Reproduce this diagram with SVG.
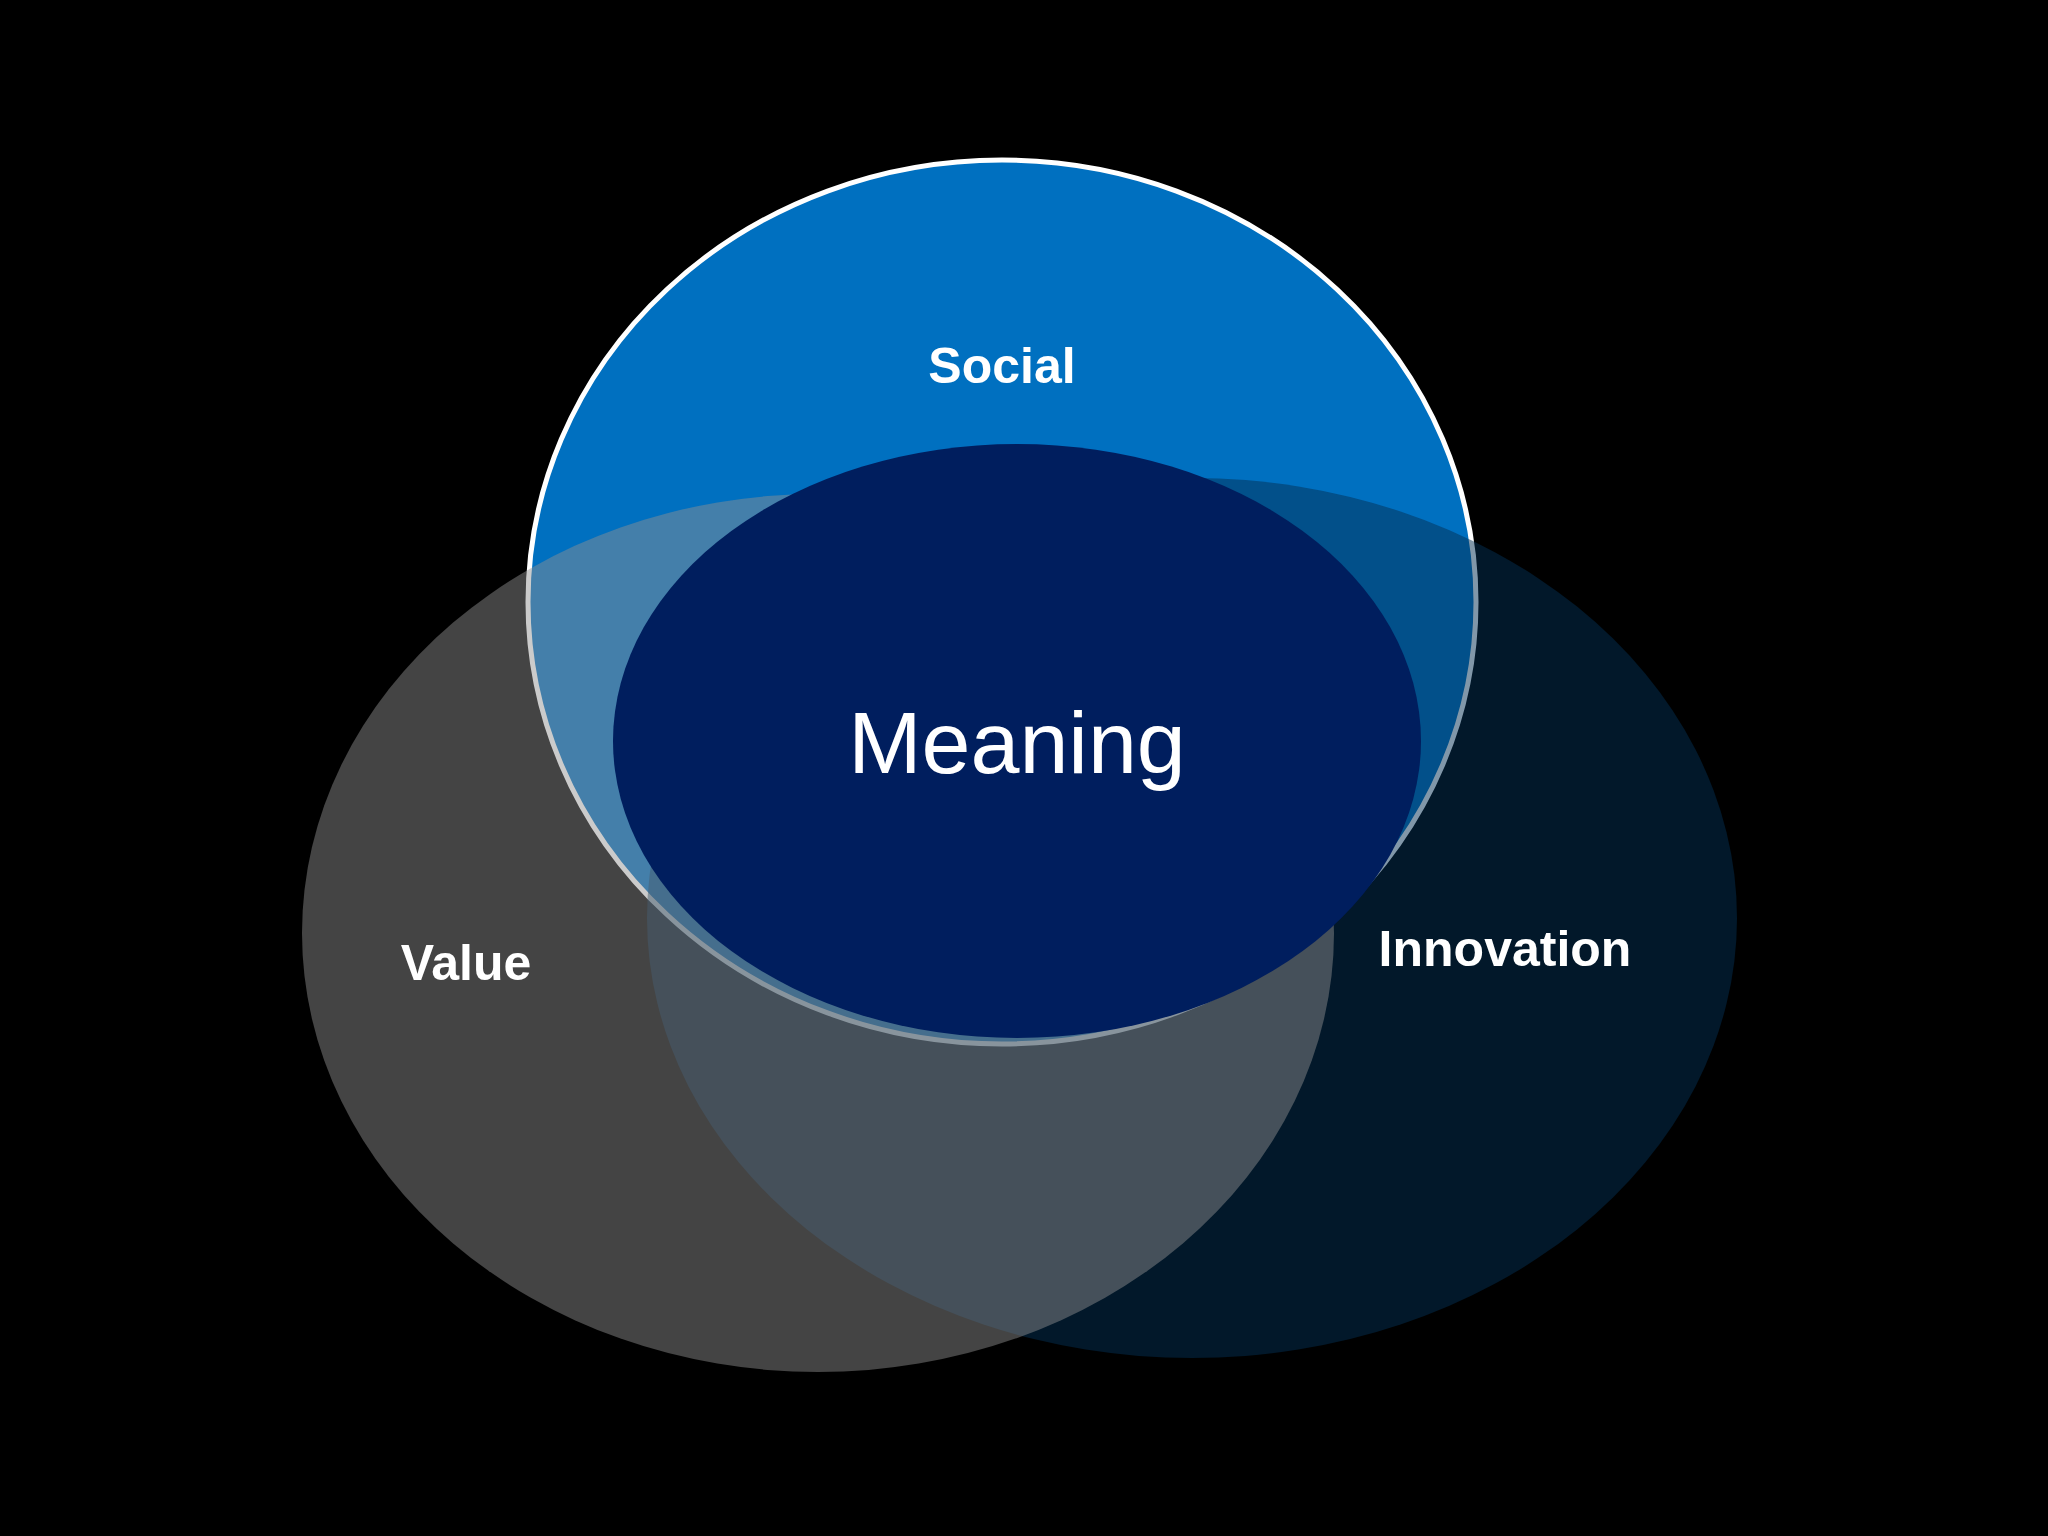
<svg xmlns="http://www.w3.org/2000/svg" width="2048" height="1536" viewBox="0 0 2048 1536">
<style>
.lbl{font-family:"Liberation Sans",Arial,sans-serif;fill:#fff;text-anchor:middle}
.b{font-weight:bold;font-size:50px}
</style>
<rect width="2048" height="1536" fill="#000"/>
<g id="social"><ellipse cx="1002" cy="602" rx="474" ry="442" fill="#0070c0" stroke="#fff" stroke-width="5"/></g>
<g id="innovation"><ellipse cx="1192" cy="918" rx="545" ry="440" fill="#043054" fill-opacity="0.5"/></g>
<g id="value"><ellipse cx="818" cy="933" rx="516" ry="439" fill="#919191" fill-opacity="0.47"/></g>
<g id="meaning"><ellipse cx="1017" cy="741" rx="404" ry="297" fill="#001e5e"/>
<text class="lbl" x="1017" y="773" font-size="88">Meaning</text></g>
<g id="labels">
<text class="lbl b" x="1002" y="383">Social</text>
<text class="lbl b" x="466" y="980">Value</text>
<text class="lbl b" x="1505" y="966">Innovation</text>
</g>
<g id="connectors"/>
</svg>
